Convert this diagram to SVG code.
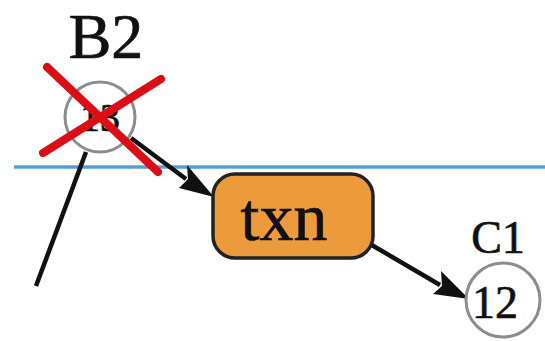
<svg xmlns="http://www.w3.org/2000/svg" width="545" height="341" viewBox="0 0 545 341">
  <style>
    text { font-family: 'Liberation Serif', 'DejaVu Serif', 'Times New Roman', Times, serif; fill: #111; stroke: #111; stroke-width: 0.7; text-anchor: middle; }
    .state { fill: #fff; stroke: #8c8c8c; stroke-width: 3; }
    .edge { stroke: #111; stroke-width: 4.5; fill: none; }
  </style>

  <rect width="545" height="341" fill="#fff"/>

  <!-- boundary line -->
  <line x1="14" y1="167" x2="545" y2="167" stroke="#5b9bd5" stroke-width="3.5"/>

  <g id="connectors">
    <line class="edge" x1="86" y1="152" x2="36" y2="286"/>
    <path class="edge" d="M131,138 L186,179"/>
    <path d="M214,197 L179,188 L188,179 L187,165 Z" fill="#111"/>
    <path class="edge" d="M370,244 L440,285"/>
    <path d="M469,299 L433,294 L442,286 L441,271 Z" fill="#111"/>
  </g>

  <g id="B2">
    <text x="106" y="58" font-size="64">B2</text>
    <circle class="state" cx="100" cy="117" r="35"/>
    <text x="100" y="131" font-size="40">13</text>
    <g stroke="#dc0d14" stroke-width="8" stroke-linecap="round">
      <line x1="47" y1="67" x2="158" y2="172"/>
      <line x1="161" y1="79" x2="43" y2="153"/>
    </g>
  </g>

  <g id="txn">
    <rect x="213" y="174" width="160" height="84" rx="22" fill="#eb9a3c" stroke="#222" stroke-width="3.5"/>
    <text x="284" y="240" font-size="68">txn</text>
  </g>

  <g id="C1">
    <text x="498" y="253" font-size="46">C1</text>
    <circle class="state" cx="503" cy="300" r="37"/>
    <text x="495" y="318" font-size="46">12</text>
  </g>
</svg>
